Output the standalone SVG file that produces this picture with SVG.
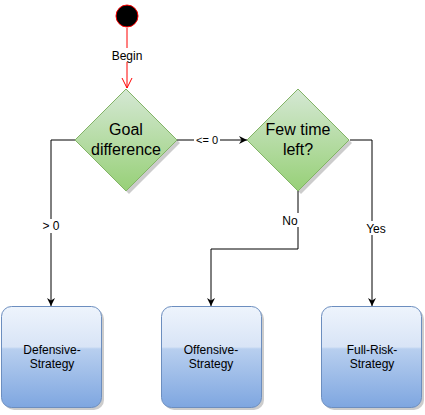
<svg xmlns="http://www.w3.org/2000/svg" width="425" height="415" viewBox="0 0 425 415">
<defs>
<linearGradient id="gG" x1="0" y1="0" x2="0" y2="1"><stop offset="0" stop-color="#d5e8d4"/><stop offset="1" stop-color="#97d077"/></linearGradient>
<linearGradient id="bG" x1="0" y1="0" x2="0" y2="1"><stop offset="0" stop-color="#eef4fc"/><stop offset="0.4" stop-color="#d8e4f6"/><stop offset="0.42" stop-color="#b8cfef"/><stop offset="1" stop-color="#7ea6e0"/></linearGradient>
<marker id="ah" markerWidth="10" markerHeight="10" refX="8" refY="5" orient="auto" markerUnits="userSpaceOnUse"><path d="M0,1 L8,5 L0,9 L2.5,5 Z" fill="#000"/></marker>
<marker id="oh" markerWidth="12" markerHeight="12" refX="10" refY="6" orient="auto" markerUnits="userSpaceOnUse"><path d="M0,1 L10,6 L0,11" fill="none" stroke="#ff0000"/></marker>
</defs>
<style>
.dia{fill:url(#gG);stroke:#82b366;stroke-width:1}
.box{fill:url(#bG);stroke:#6c8ebf;stroke-width:1}
.sh{fill:#000;opacity:0.2}
.dt{font-family:"Liberation Sans",Arial,sans-serif;font-size:16px;text-anchor:middle;fill:#000}
.bt{font-family:"Liberation Sans",Arial,sans-serif;font-size:12px;text-anchor:middle;fill:#000}
.lb{font-family:"Liberation Sans",Arial,sans-serif;font-size:12px;text-anchor:middle;fill:#000}
.ln{fill:none;stroke:#000;stroke-width:1}
.lbg{fill:#fff}
</style>
<g id="connectors">
<path class="ln" d="M127,28 V88" style="stroke:#ff0000" marker-end="url(#oh)"/>
<rect class="lbg" x="110" y="48" width="34" height="14"/>
<text class="lb" x="127" y="60">Begin</text>
<path class="ln" d="M177,140 H247" marker-end="url(#ah)"/>
<rect class="lbg" x="194" y="134" width="26" height="12"/>
<text class="lb" x="207" y="144" style="font-size:11px">&lt;= 0</text>
<path class="ln" d="M75,140 H51 V306" marker-end="url(#ah)"/>
<rect class="lbg" x="40" y="219" width="22" height="14"/>
<text class="lb" x="51" y="230">&gt; 0</text>
<path class="ln" d="M298,191 V249 H211 V306" marker-end="url(#ah)"/>
<rect class="lbg" x="281" y="213" width="19" height="14"/>
<text class="lb" x="290" y="225">No</text>
<path class="ln" d="M350,140 H372 V306" marker-end="url(#ah)"/>
<rect class="lbg" x="363" y="221" width="26" height="14"/>
<text class="lb" x="376" y="233">Yes</text>
</g>
<g id="start">
<circle cx="127" cy="16" r="11" fill="#000" stroke="#ff0000" stroke-width="1"/>
</g>
<g id="goal">
<path class="sh" d="M129,92 L180,143 L129,194 L78,143 Z"/>
<path class="dia" d="M126,89 L177,140 L126,191 L75,140 Z"/>
<text class="dt" x="126" y="135">Goal</text>
<text class="dt" x="126" y="155">difference</text>
</g>
<g id="fewtime">
<path class="sh" d="M301,92 L352,143 L301,194 L250,143 Z"/>
<path class="dia" d="M298,89 L349,140 L298,191 L247,140 Z"/>
<text class="dt" x="298" y="135">Few time</text>
<text class="dt" x="298" y="155">left?</text>
</g>
<g id="defensive">
<rect class="sh" x="4" y="309" width="100" height="101" rx="10"/>
<rect class="box" x="1.5" y="306.5" width="100" height="101" rx="10"/>
<text class="bt" x="52" y="354">Defensive-</text>
<text class="bt" x="52" y="368">Strategy</text>
</g>
<g id="offensive">
<rect class="sh" x="164" y="309" width="100" height="101" rx="10"/>
<rect class="box" x="161.5" y="306.5" width="100" height="101" rx="10"/>
<text class="bt" x="211" y="354">Offensive-</text>
<text class="bt" x="211" y="368">Strategy</text>
</g>
<g id="fullrisk">
<rect class="sh" x="324" y="309" width="100" height="101" rx="10"/>
<rect class="box" x="321.5" y="306.5" width="100" height="101" rx="10"/>
<text class="bt" x="372" y="354">Full-Risk-</text>
<text class="bt" x="372" y="368">Strategy</text>
</g>
</svg>
